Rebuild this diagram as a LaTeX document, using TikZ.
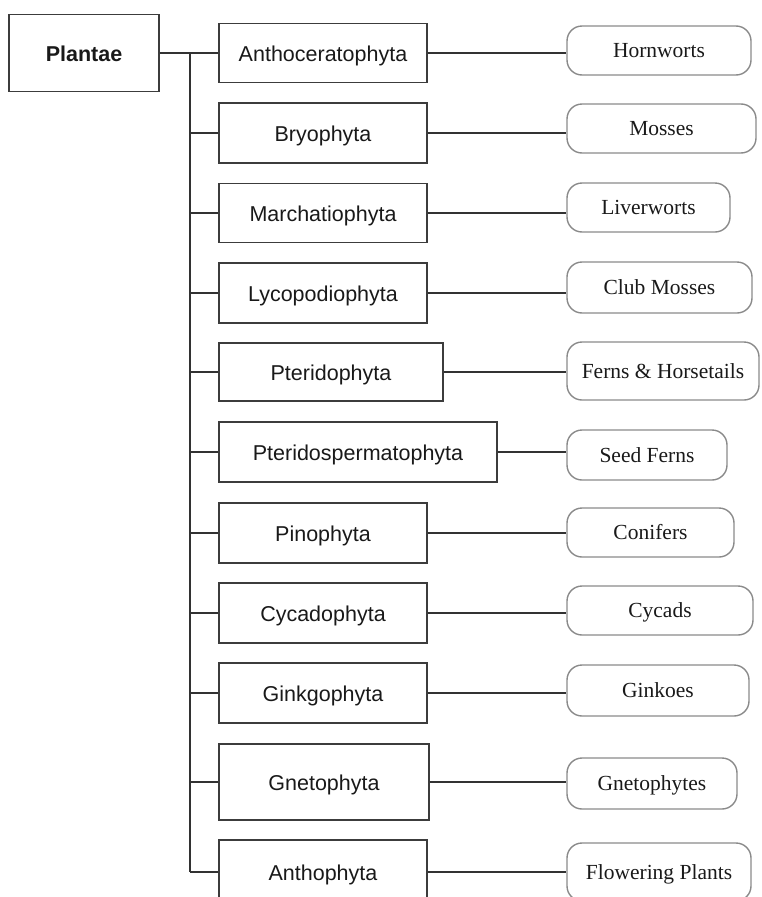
\documentclass[tikz,border=0pt]{standalone}
\usepackage{fontspec}
\setmainfont{Liberation Serif}
\newfontfamily\arialfont{Liberation Sans}
\usepackage{tikz}
\usetikzlibrary{positioning,calc}
\definecolor{boxgray}{RGB}{60,60,60}
\definecolor{roundgray}{RGB}{138,138,138}
\definecolor{linkgray}{RGB}{50,50,50}
\definecolor{inkgray}{RGB}{25,25,25}

\tikzset{
  phylum/.style={draw=boxgray,line width=1.8pt,inner sep=0pt,text=inkgray,
    font=\arialfont\fontsize{21.5}{24}\selectfont,text height=17pt,text depth=0pt},
  common/.style={draw=roundgray,line width=1.4pt,rounded corners=15pt,inner sep=0pt,
    text=inkgray,font=\fontsize{21.5}{24}\selectfont,text height=14pt,text depth=0pt},
  link/.style={draw=linkgray,line width=1.8pt}
}

\begin{document}
\begin{tikzpicture}[x=1pt,y=-1pt]
  \useasboundingbox (0,0) rectangle (761,897);
  % kingdom
  \node[phylum,font=\arialfont\bfseries\fontsize{21.5}{24}\selectfont,
    minimum width=150pt,minimum height=77pt] (plantae) at (84,53) {Plantae};
  % divisions
  \node[phylum,minimum width=208pt,minimum height=59pt] (antho) at (323,53) {Anthoceratophyta};
  \node[phylum,minimum width=208pt,minimum height=60pt] (bryo) at (323,133) {Bryophyta};
  \node[phylum,minimum width=208pt,minimum height=59pt] (march) at (323,213) {Marchatiophyta};
  \node[phylum,minimum width=208pt,minimum height=60pt] (lyco) at (323,293) {Lycopodiophyta};
  \node[phylum,minimum width=224pt,minimum height=58pt] (pter) at (331,372) {Pteridophyta};
  \node[phylum,minimum width=278pt,minimum height=60pt] (sperm) at (358,452) {Pteridospermatophyta};
  \node[phylum,minimum width=208pt,minimum height=60pt] (pino) at (323,533) {Pinophyta};
  \node[phylum,minimum width=208pt,minimum height=60pt] (cyca) at (323,613) {Cycadophyta};
  \node[phylum,minimum width=208pt,minimum height=60pt] (gink) at (323,693) {Ginkgophyta};
  \node[phylum,minimum width=210pt,minimum height=76pt] (gneto) at (324,782) {Gnetophyta};
  \node[phylum,minimum width=208pt,minimum height=64pt] (anth) at (323,872) {Anthophyta};
  % common names
  \node[common,minimum width=184pt,minimum height=49pt] (horn) at (659,50.5) {Hornworts};
  \node[common,minimum width=189pt,minimum height=49pt] (moss) at (661.5,128.5) {Mosses};
  \node[common,minimum width=163pt,minimum height=49pt] (liver) at (648.5,207.5) {Liverworts};
  \node[common,minimum width=185pt,minimum height=51pt] (club) at (659.5,287.5) {Club Mosses};
  \node[common,minimum width=192pt,minimum height=58pt] (fern) at (663,371) {Ferns \& Horsetails};
  \node[common,minimum width=160pt,minimum height=50pt] (seed) at (647,455) {Seed Ferns};
  \node[common,minimum width=167pt,minimum height=49pt] (conif) at (650.5,532.5) {Conifers};
  \node[common,minimum width=186pt,minimum height=49pt] (cycad) at (660,610.5) {Cycads};
  \node[common,minimum width=182pt,minimum height=51pt] (ginko) at (658,690.5) {Ginkoes};
  \node[common,minimum width=170pt,minimum height=51pt] (gnetp) at (652,783.5) {Gnetophytes};
  \node[common,minimum width=184pt,minimum height=58pt] (flower) at (659,872) {Flowering Plants};
  % trunk
  \coordinate (trunktop) at (190,53);
  \coordinate (trunkbot) at (190,872);
  \draw[link] (plantae.east) -- (antho.west);
  \draw[link] (trunktop) -- (trunkbot);
  \draw[link] (bryo.west) -- (bryo.west -| trunktop);
  \draw[link] (march.west) -- (march.west -| trunktop);
  \draw[link] (lyco.west) -- (lyco.west -| trunktop);
  \draw[link] (pter.west) -- (pter.west -| trunktop);
  \draw[link] (sperm.west) -- (sperm.west -| trunktop);
  \draw[link] (pino.west) -- (pino.west -| trunktop);
  \draw[link] (cyca.west) -- (cyca.west -| trunktop);
  \draw[link] (gink.west) -- (gink.west -| trunktop);
  \draw[link] (gneto.west) -- (gneto.west -| trunktop);
  \draw[link] (anth.west) -- (anth.west -| trunktop);
  % division to common name
  \draw[link] (antho.east) -- (antho.east -| horn.west);
  \draw[link] (bryo.east) -- (bryo.east -| moss.west);
  \draw[link] (march.east) -- (march.east -| liver.west);
  \draw[link] (lyco.east) -- (lyco.east -| club.west);
  \draw[link] (pter.east) -- (pter.east -| fern.west);
  \draw[link] (sperm.east) -- (sperm.east -| seed.west);
  \draw[link] (pino.east) -- (pino.east -| conif.west);
  \draw[link] (cyca.east) -- (cyca.east -| cycad.west);
  \draw[link] (gink.east) -- (gink.east -| ginko.west);
  \draw[link] (gneto.east) -- (gneto.east -| gnetp.west);
  \draw[link] (anth.east) -- (anth.east -| flower.west);
\end{tikzpicture}
\end{document}
